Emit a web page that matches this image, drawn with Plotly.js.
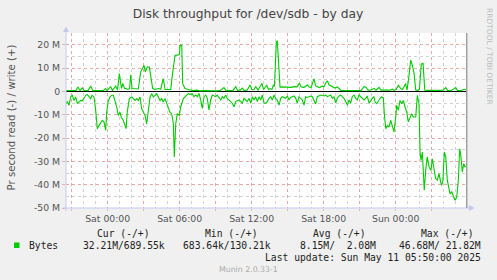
<!DOCTYPE html>
<html><head><meta charset="utf-8">
<script src="https://cdn.plot.ly/plotly-3.0.1.min.js"></script>
<style>html,body{margin:0;padding:0;background:#F0F0F0;}#chart{width:497px;height:280px;}</style>
</head><body><div id="chart"></div>
<script>
// time axis: hours relative to Sat 2025-05-10 00:00
const writeHours = [-3.47,-3.14,-2.81,-2.64,-2.48,-2.31,-2.12,-1.98,-1.64,-1.42,-1.23,-0.81,-0.39,-0.18,-0.06,0.25,0.40,0.67,0.82,0.97,1.07,1.15,1.26,1.40,1.53,1.69,1.82,1.92,2.03,2.28,2.55,2.75,2.92,3.03,3.13,3.30,3.47,3.67,3.75,3.94,4.22,4.42,4.63,4.78,5.03,5.25,5.40,5.61,5.78,5.97,6.03,6.17,6.25,6.44,6.72,6.86,7.11,7.44,7.69,8.03,8.36,8.69,9.03,9.36,9.69,9.86,10.19,10.44,10.67,10.82,11.03,11.22,11.36,11.61,11.86,12.03,12.19,12.33,12.53,12.69,12.86,12.98,13.25,13.40,13.53,13.69,13.80,13.90,13.97,14.05,14.13,14.23,14.36,14.53,14.78,15.03,15.28,15.53,15.78,15.98,16.11,16.28,16.44,16.63,16.78,16.94,17.19,17.33,17.48,17.65,17.88,18.03,18.17,18.30,18.44,18.58,18.78,18.94,19.13,19.28,19.44,19.78,20.11,20.44,20.78,21.11,21.36,21.53,21.69,21.94,22.19,22.36,22.61,22.78,23.03,23.28,23.53,23.72,23.86,24.03,24.22,24.42,24.57,24.83,24.94,25.07,25.25,25.38,25.53,25.67,25.86,25.98,26.13,26.28,26.42,26.61,26.94,27.28,27.61,27.94,28.17,28.32,28.61,29.00,29.15,29.44,29.69,29.86];
const writeMB = [0.3,0.3,0.2,0.4,1.9,0.3,1.5,0.4,0.3,2.3,0.3,0.2,0.3,1.2,0.3,2.0,0.4,2.3,0.6,7.6,3.3,1.3,3.4,1.2,1.2,0.8,1.2,7.1,1.2,1.2,1.0,8.3,9.7,11.1,8.3,10.4,10.4,4.0,1.2,0.8,1.2,1.0,5.4,0.8,0.8,0.8,7.5,15.4,15.5,15.8,19.7,19.7,3.3,1.2,0.8,0.6,0.3,0.5,0.2,0.3,0.2,0.4,0.2,0.3,1.6,0.3,0.4,0.3,2.0,0.4,0.5,1.4,0.4,0.5,2.7,0.7,0.8,2.0,0.6,1.7,3.4,0.8,2.6,0.8,1.2,0.8,2.6,2.2,11.0,21.0,21.8,12.0,1.8,1.9,1.8,1.9,1.7,2.0,1.9,3.5,1.9,1.7,1.9,2.8,1.8,1.6,5.3,2.3,1.9,1.6,2.2,2.0,3.6,4.5,2.8,2.3,1.6,1.4,1.9,1.0,0.4,0.3,0.3,0.2,0.3,0.3,2.0,1.8,0.5,0.6,1.3,0.5,1.7,0.5,0.5,0.6,0.5,0.9,0.4,0.8,2.6,1.2,0.8,3.3,0.6,5.0,13.4,11.3,7.7,0.6,0.4,1.0,11.7,12.0,0.6,0.4,0.3,0.3,0.4,0.5,1.6,0.4,0.3,1.6,0.4,0.3,0.9,0.7];
const readHours = [-3.47,-3.37,-3.23,-3.08,-2.95,-2.81,-2.67,-2.53,-2.39,-2.25,-2.12,-1.98,-1.83,-1.70,-1.56,-1.42,-1.31,-1.14,-1.00,-0.87,-0.72,-0.58,-0.45,-0.31,-0.17,-0.08,0.03,0.19,0.33,0.47,0.61,0.75,0.88,1.03,1.13,1.30,1.44,1.53,1.63,1.80,2.00,2.13,2.28,2.42,2.55,2.69,2.83,2.97,3.11,3.25,3.38,3.53,3.67,3.80,3.94,4.08,4.22,4.36,4.50,4.63,4.78,4.92,5.05,5.19,5.33,5.47,5.55,5.67,5.80,5.97,6.08,6.30,6.44,6.58,6.72,6.86,7.05,7.19,7.33,7.47,7.61,7.75,7.88,8.03,8.17,8.30,8.44,8.58,8.72,9.00,9.13,9.42,9.55,9.69,9.83,9.97,10.25,10.38,10.53,10.67,10.94,11.22,11.36,11.63,11.78,11.92,12.05,12.19,12.33,12.47,12.61,12.75,12.88,13.03,13.17,13.30,13.44,13.58,13.72,13.86,14.00,14.13,14.28,14.42,14.55,14.83,14.97,15.11,15.25,15.53,15.67,15.80,15.94,16.08,16.22,16.36,16.50,16.63,16.92,17.05,17.19,17.33,17.47,17.75,18.03,18.17,18.30,18.58,18.72,18.86,19.00,19.13,19.28,19.42,19.55,19.69,19.83,19.97,20.11,20.25,20.38,20.53,20.67,20.80,20.94,21.08,21.22,21.36,21.50,21.63,21.78,21.92,22.05,22.19,22.28,22.42,22.55,22.69,22.83,22.97,23.05,23.17,23.30,23.44,23.58,23.72,23.86,24.00,24.08,24.22,24.36,24.50,24.63,24.78,24.92,25.05,25.19,25.33,25.47,25.67,25.80,25.94,26.03,26.11,26.22,26.38,26.50,26.63,26.78,26.94,27.05,27.19,27.33,27.47,27.61,27.75,27.83,27.94,28.05,28.17,28.30,28.44,28.53,28.67,28.80,28.94,29.08,29.22,29.33,29.44,29.55,29.67,29.78,29.86];
const readMB = [-5.3,-4.3,-6.0,-2.4,-1.7,-3.9,-2.4,-5.3,-4.6,-3.9,-4.1,-2.7,-1.7,-1.3,-2.4,-3.1,-1.7,-2.4,-8.1,-16.0,-14.6,-13.1,-12.4,-13.1,-16.7,-8.9,-4.6,-2.4,-1.7,-1.7,-3.9,-6.7,-10.3,-9.0,-11.1,-12.4,-14.6,-16.0,-8.9,-3.1,-2.4,-3.1,-3.9,-3.1,-3.9,-2.4,-7.4,-8.9,-10.3,-13.9,-8.9,-2.4,-1.0,-2.4,-1.7,-1.0,-2.4,-3.9,-3.1,-4.6,-3.1,-5.3,-7.4,-8.9,-9.6,-13.9,-28.1,-13.9,-9.6,-10.3,-6.7,-3.1,-2.4,-1.7,-1.0,-1.3,-1.1,-2.3,-1.6,-2.3,-0.9,-3.7,-7.3,-2.3,-1.6,-3.0,-8.0,-3.7,-1.6,-2.3,-1.6,-3.7,-2.3,-3.0,-1.6,-3.0,-4.4,-5.1,-6.6,-4.4,-3.7,-5.1,-3.0,-4.4,-3.0,-5.1,-2.3,-3.7,-2.3,-4.4,-2.3,-3.7,-1.6,-5.1,-5.1,-4.4,-3.0,-2.3,-3.7,-1.6,-3.0,-3.7,-5.9,-3.0,-2.3,-3.0,-2.0,-3.7,-2.6,-2.0,-3.0,-5.1,-2.3,-3.0,-3.7,-5.9,-2.3,-2.6,-2.0,-2.3,-3.7,-5.4,-2.3,-1.6,-2.0,-1.6,-2.3,-1.6,-3.0,-2.3,-4.9,-3.0,-2.0,-1.6,-2.3,-3.0,-4.4,-5.9,-3.7,-5.1,-2.3,-1.6,-3.0,-3.7,-1.6,-2.3,-3.0,-3.7,-3.0,-2.0,-5.1,-3.7,-3.0,-2.3,-4.6,-5.3,-3.9,-3.1,-2.4,-2.7,-9.6,-16.0,-14.6,-15.3,-12.4,-14.6,-17.4,-11.0,-6.0,-8.1,-3.9,-5.3,-3.9,-6.7,-8.9,-13.1,-11.0,-9.6,-11.0,-11.0,-1.7,-5.3,-26.0,-29.6,-26.0,-42.4,-33.9,-28.1,-32.4,-33.9,-28.9,-32.4,-37.4,-38.1,-35.3,-38.9,-40.3,-38.1,-26.0,-28.1,-38.1,-41.7,-43.9,-43.1,-44.6,-46.7,-45.5,-38.1,-24.6,-28.1,-34.6,-31.0,-32.4,-32.2];

const xTickVals = [-3,0,3,6,9,12,15,18,21,24,27];
const xTickText = ['', 'Sat 00:00', '', 'Sat 06:00', '', 'Sat 12:00', '', 'Sat 18:00', '', 'Sun 00:00', ''];
const yTickVals = [-50,-40,-30,-20,-10,0,10,20];
const yTickText = ['-50 M','-40 M','-30 M','-20 M','-10 M','0','10 M','20 M'];
const seriesName = 'Bytes';
const statHeaders = ['Cur (-/+)','Min (-/+)','Avg (-/+)','Max (-/+)'];
const statValues = ['32.21M/689.55k','683.64k/130.21k','8.15M/  2.08M','46.68M/ 21.82M'];
const lastUpdate = 'Last update: Sun May 11 05:50:00 2025';
const titleText = 'Disk throughput for /dev/sdb - by day';
const yTitle = 'Pr second read (-) / write (+)';
const footer = 'Munin 2.0.33-1';
const watermark = 'RRDTOOL / TOBI OETIKER';

// pixel layout helpers
const L = 66, R = 466, T = 33, B = 208;
const fx = x => (x - L) / (R - L);
const fy = y => (B - y) / (B - T);
const nb = s => s.replace(/ /g, '\u00A0');
const GREEN = '#00CC00';
const SANS = 'DejaVu Sans';
const MONO = 'DejaVu Sans Mono';

const traces = [
  {x: readHours, y: readMB, type: 'scatter', mode: 'lines', line: {color: GREEN, width: 1.1}, hoverinfo: 'skip', showlegend: false},
  {x: writeHours, y: writeMB, type: 'scatter', mode: 'lines', line: {color: GREEN, width: 1.1}, hoverinfo: 'skip', showlegend: false}
];

const headerRight = [152, 260, 368, 476];
const valueRight = [167, 273, 378, 483];
const annotations = [];
statHeaders.forEach((h, i) => annotations.push({xref: 'paper', yref: 'paper', x: fx(headerRight[i]), y: fy(233.5), xanchor: 'right', yanchor: 'middle', text: nb(h), showarrow: false, font: {family: MONO, size: 9.7, color: '#222'}}));
statValues.forEach((v, i) => annotations.push({xref: 'paper', yref: 'paper', x: fx(valueRight[i]), y: fy(245.7), xanchor: 'right', yanchor: 'middle', text: nb(v), showarrow: false, font: {family: MONO, size: 9.7, color: '#222'}}));
annotations.push({xref: 'paper', yref: 'paper', x: fx(26.5), y: fy(245.7), xanchor: 'left', yanchor: 'middle', text: seriesName, showarrow: false, font: {family: MONO, size: 9.7, color: '#222'}});
annotations.push({xref: 'paper', yref: 'paper', x: fx(483), y: fy(257.7), xanchor: 'right', yanchor: 'middle', text: nb(lastUpdate), showarrow: false, font: {family: MONO, size: 9.7, color: '#222'}});
annotations.push({xref: 'paper', yref: 'paper', x: fx(248.7), y: fy(269.3), xanchor: 'center', yanchor: 'middle', text: footer, showarrow: false, font: {family: SANS, size: 7.8, color: '#AAAAAA'}});
annotations.push({xref: 'paper', yref: 'paper', x: fx(490), y: fy(56), xanchor: 'center', yanchor: 'middle', text: watermark, textangle: 90, showarrow: false, font: {family: SANS, size: 7.5, color: '#BBBBBB'}});
annotations.push({xref: 'paper', yref: 'paper', x: fx(10.5), y: fy(118), xanchor: 'center', yanchor: 'middle', text: yTitle, textangle: -90, showarrow: false, font: {family: SANS, size: 10.2, color: '#555'}});

const AX = '#C4C8EE';
const shapes = [
  {type: 'line', xref: 'paper', yref: 'paper', x0: fx(66), x1: fx(66), y0: fy(211), y1: fy(30), line: {color: AX, width: 1}, layer: 'above'},
  {type: 'path', xref: 'paper', yref: 'paper', path: `M ${fx(63)} ${fy(32)} L ${fx(66)} ${fy(26.5)} L ${fx(69)} ${fy(32)} Z`, fillcolor: AX, line: {width: 0}, layer: 'above'},
  {type: 'line', xref: 'paper', yref: 'paper', x0: fx(63), x1: fx(470), y0: fy(208), y1: fy(208), line: {color: AX, width: 1}, layer: 'above'},
  {type: 'path', xref: 'paper', yref: 'paper', path: `M ${fx(469)} ${fy(205)} L ${fx(474.5)} ${fy(208)} L ${fx(469)} ${fy(211)} Z`, fillcolor: AX, line: {width: 0}, layer: 'above'},
  {type: 'line', xref: 'paper', yref: 'paper', x0: fx(466.7), x1: fx(466.7), y0: fy(208), y1: fy(33), line: {color: '#A0A0A0', width: 1.5}, layer: 'above'},
  {type: 'rect', xref: 'paper', yref: 'paper', x0: fx(14), x1: fx(19.5), y0: fy(248), y1: fy(242.5), fillcolor: GREEN, line: {width: 0}, layer: 'above'}
];

const layout = {
  width: 497, height: 280,
  margin: {l: L, r: 497 - R, t: T, b: 280 - B, pad: 0},
  paper_bgcolor: '#F0F0F0', plot_bgcolor: '#FFFFFF',
  showlegend: false,
  title: {text: titleText, x: 248 / 497, xref: 'container', xanchor: 'center', y: 1 - 13.5 / 280, yref: 'container', yanchor: 'middle', font: {family: SANS, size: 12.3, color: '#444'}},
  xaxis: {
    range: [(L - 107.7) / 12, (R - 107.7) / 12], tickmode: 'array', tickvals: xTickVals, ticktext: xTickText,
    showgrid: true, gridcolor: '#EBA6A6', griddash: 'dot', gridwidth: 1,
    minor: {tickmode: 'linear', tick0: 0, dtick: 1, showgrid: true, gridcolor: '#D2D2D2', griddash: 'dot', gridwidth: 1},
    zeroline: false, showline: false, ticks: 'outside', ticklen: 2, tickcolor: '#E8B0B0',
    tickfont: {family: SANS, size: 9.3, color: '#555'}, fixedrange: true
  },
  yaxis: {
    range: [-50, 25], tickmode: 'array', tickvals: yTickVals, ticktext: yTickText,
    showgrid: true, gridcolor: '#EBA6A6', griddash: 'dot', gridwidth: 1,
    minor: {tickmode: 'linear', tick0: 0, dtick: 5, showgrid: true, gridcolor: '#D2D2D2', griddash: 'dot', gridwidth: 1},
    zeroline: true, zerolinecolor: '#000000', zerolinewidth: 1.5,
    showline: false, ticks: 'outside', ticklen: 3, tickcolor: '#E8B0B0',
    tickfont: {family: SANS, size: 9.3, color: '#555'}, fixedrange: true
  },
  annotations, shapes
};

Plotly.newPlot('chart', traces, layout, {staticPlot: true, displayModeBar: false});
</script></body></html>
